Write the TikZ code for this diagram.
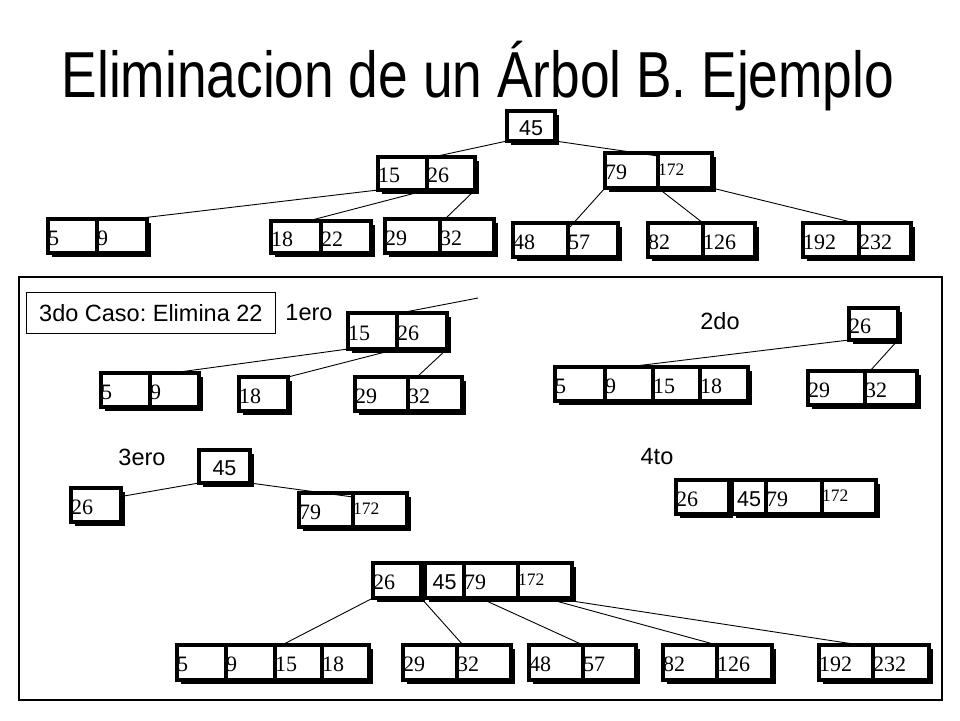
\documentclass[tikz,border=0pt]{standalone}
\usepackage{fontspec}
\usepackage{graphicx}
\setmainfont{Liberation Serif}
\newfontfamily\arialf{Liberation Sans}
\usetikzlibrary{shadows}
\frenchspacing
\tikzset{
 cell/.style={rectangle, draw=black, line width=3.5pt, fill=white, inner xsep=0pt, inner ysep=0pt, outer sep=0pt, align=left,
   font=\fontsize{22}{22}\selectfont, text height=18pt, text depth=0pt,
   drop shadow={shadow xshift=4pt, shadow yshift=-4pt, fill=black, opacity=1}},
 small/.style={font=\fontsize{17.5}{17.5}\selectfont, text height=9pt},
 ar/.style={font=\arialf\fontsize{21.5}{21.5}\selectfont, align=center},
 link/.style={line width=0.9pt},
 lbl/.style={font=\arialf\fontsize{23.5}{23.5}\selectfont, inner sep=0pt},
}
\newcommand\bcell[7][]{%
  \pgfmathsetmacro\bcw{#5-#3}%
  \pgfmathsetmacro\bch{#6-#4}%
  \pgfmathsetmacro\bcx{(#3+#5)/2}%
  \pgfmathsetmacro\bcy{(#4+#6)/2}%
  \node[cell,minimum width=\bcw pt,minimum height=\bch pt,text width=\bcw pt,#1] (#2) at (\bcx,\bcy) {#7};%
}
\begin{document}
\begin{tikzpicture}[x=1pt,y=-1pt]
\useasboundingbox (0,0) rectangle (960,720);
\fill[white] (0,0) rectangle (960,720);
% title
\node[anchor=base, inner sep=0pt, font=\arialf\fontsize{65}{65}\selectfont] (title) at (478,97) {\scalebox{0.82}[1]{Eliminacion de un Árbol B. Ejemplo}};
% ---------- top tree
\bcell[ar]{r45}{507}{111}{555}{141}{45}
\bcell{t15}{378}{157}{427}{190}{15}
\bcell{t26}{427}{157}{475}{190}{26}
\bcell{t79}{605}{153}{658}{188}{79}
\bcell[small]{t172}{658}{153}{712}{188}{172}
\bcell{t5}{48}{219}{97}{253}{5}
\bcell{t9}{97}{219}{147}{253}{9}
\bcell{t18}{271}{221}{321}{253}{18}
\bcell{t22}{321}{221}{371}{253}{22}
\bcell{t29}{385}{219}{440}{253}{29}
\bcell{t32}{440}{219}{494}{253}{32}
\bcell{t48}{513}{223}{568}{257}{48}
\bcell{t57}{568}{223}{618}{257}{57}
\bcell{t82}{648}{223}{703}{257}{82}
\bcell{t126}{703}{223}{755}{257}{126}
\bcell{t192}{803}{223}{859}{257}{192}
\bcell{t232}{859}{223}{911}{257}{232}
\draw[link] (r45.south west) -- ([xshift=6pt]t26.north west);
\draw[link] (r45.south east) -- ([yshift=-3pt]t172.north west);
\draw[link] (t15.south west) -- ([xshift=36pt]t9.north west);
\draw[link] (t26.south west) -- ([xshift=-13pt]t18.north east);
\draw[link] (t26.south east) -- ([xshift=5pt]t32.north west);
\draw[link] (t79.south west) -- ([xshift=2pt,yshift=-4pt]t57.north west);
\draw[link] (t172.south west) -- (t126.north west);
\draw[link] (t172.south east) -- ([xshift=-4pt]t192.north east);
% ---------- frame
\draw[line width=1.2pt] (19,277) rectangle (942,700);
\node[lbl, draw, line width=0.8pt, minimum width=249pt, minimum height=41pt, anchor=north west] (caso) at (26,292) {3do Caso: Elimina 22};
\node[lbl] (l1) at (309,313) {1ero};
\node[lbl] (l2) at (720,321) {2do};
\node[lbl] (l3) at (142,457) {3ero};
\node[lbl] (l4) at (657,457) {4to};
% ---------- 1ero
\bcell{a15}{348}{313}{397}{349}{15}
\bcell{a26}{397}{313}{447}{349}{26}
\bcell{a5}{101}{373}{150}{407}{5}
\bcell{a9}{150}{373}{199}{407}{9}
\bcell{a18}{239}{377}{288}{411}{18}
\bcell{a29}{355}{377}{408}{411}{29}
\bcell{a32}{408}{377}{462}{411}{32}
\coordinate (up1) at (478,298);
\draw[link] ([xshift=3pt]a26.north west) -- (up1);
\draw[link] (a15.south west) -- ([xshift=22pt]a9.north west);
\draw[link] (a26.south west) -- (a18.north east);
\draw[link] (a26.south east) -- ([xshift=9pt]a32.north west);
% ---------- 2do
\bcell{b26}{849}{308}{898}{340}{26}
\bcell{b5}{555}{367}{605}{401}{5}
\bcell{b9}{605}{367}{653}{401}{9}
\bcell{b15}{653}{367}{700}{401}{15}
\bcell{b18}{700}{367}{748}{401}{18}
\bcell{b29}{808}{371}{865}{405}{29}
\bcell{b32}{865}{371}{917}{405}{32}
\draw[link] (b26.south west) -- ([xshift=22pt]b9.north west);
\draw[link] (b26.south east) -- ([xshift=5pt]b32.north west);
% ---------- 3ero
\bcell[ar]{c45}{199}{450}{250}{483}{45}
\bcell{c26}{71}{488}{121}{522}{26}
\bcell{c79}{299}{493}{353}{527}{79}
\bcell[small]{c172}{353}{493}{407}{527}{172}
\draw[link] (c45.south west) -- ([xshift=3pt,yshift=-8pt]c26.north east);
\draw[link] (c45.south east) -- ([yshift=-4pt]c172.north west);
% ---------- 4to
\bcell{d26}{676}{480}{729}{514}{26}
\bcell[ar]{d45}{732}{480}{766}{514}{45}
\bcell{d79}{766}{480}{822}{514}{79}
\bcell[small]{d172}{822}{480}{876}{514}{172}
% ---------- final tree
\bcell{e26}{373}{563}{421}{598}{26}
\bcell[ar]{e45}{425}{563}{464}{598}{45}
\bcell{e79}{464}{563}{518}{598}{79}
\bcell[small]{e172}{518}{563}{572}{598}{172}
\bcell{f5}{177}{645}{226}{680}{5}
\bcell{f9}{226}{645}{275}{680}{9}
\bcell{f15}{275}{645}{322}{680}{15}
\bcell{f18}{322}{645}{369}{680}{18}
\bcell{f29}{403}{645}{457}{680}{29}
\bcell{f32}{457}{645}{511}{680}{32}
\bcell{f48}{529}{645}{583}{680}{48}
\bcell{f57}{583}{645}{636}{680}{57}
\bcell{f82}{663}{645}{717}{680}{82}
\bcell{f126}{717}{645}{772}{680}{126}
\bcell{f192}{819}{645}{873}{680}{192}
\bcell{f232}{873}{645}{929}{680}{232}
\draw[link] (e26.south west) -- ([xshift=7pt]f15.north west);
\draw[link] (e26.south east) -- ([xshift=6pt]f32.north west);
\draw[link] ([xshift=16pt]e79.south west) -- (f57.north west);
\draw[link] ([xshift=27pt]e172.south west) -- (f126.north west);
\draw[link] ([yshift=-3pt]e172.south east) -- ([xshift=-13pt]f192.north east);
\end{tikzpicture}
\end{document}
